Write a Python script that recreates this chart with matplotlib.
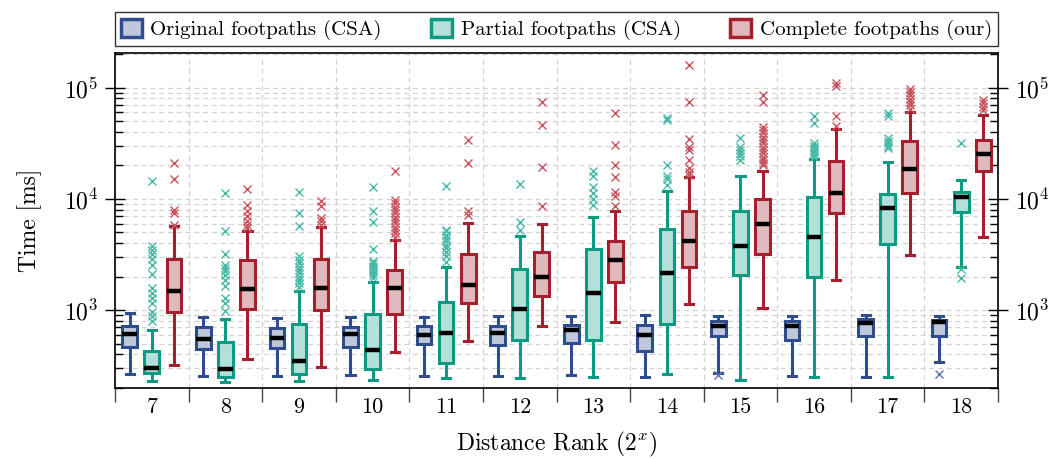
import matplotlib

matplotlib.use("Agg")
import matplotlib.pyplot as plt
from matplotlib.patches import Patch
from matplotlib.ticker import LogLocator, NullFormatter, FixedLocator

plt.rcParams.update({
    "font.family": "serif",
    "font.serif": ["cmr10", "DejaVu Serif"],
    "mathtext.fontset": "cm",
    "axes.formatter.use_mathtext": True,
    "axes.unicode_minus": False,
})

# x categories: distance rank exponents
ranks = [7, 8, 9, 10, 11, 12, 13, 14, 15, 16, 17, 18]

# Original footpaths (CSA)
orig_lo = [265, 254, 254, 263, 258, 256, 261, 249, 270, 254, 251, 342]
orig_q1 = [469, 444, 453, 472, 495, 489, 509, 429, 585, 538, 585, 585]
orig_med = [614, 554, 561, 614, 593, 626, 671, 605, 728, 719, 769, 791]
orig_q3 = [728, 705, 699, 705, 719, 723, 743, 743, 807, 796, 836, 813]
orig_hi = [953, 871, 847, 865, 871, 884, 884, 902, 884, 895, 914, 884]
orig_fl = [[], [], [], [], [], [], [], [], [261], [], [], [265]]

# Partial footpaths (CSA)
part_lo = [229, 228, 232, 234, 247, 247, 252, 268, 234, 251, 251, 2432]
part_q1 = [270, 252, 269, 294, 337, 542, 535, 754, 2075, 2004, 3960, 7670]
part_med = [304, 296, 347, 438, 618, 1021, 1420, 2162, 3750, 4520, 8280, 10370]
part_q3 = [429, 517, 754, 927, 1188, 2366, 3550, 5400, 7730, 10520, 11120, 11510]
part_hi = [662, 836, 1481, 1807, 2450, 4640, 6870, 11900, 16150, 22900, 21380, 14860]
part_fl = [
    [14550, 3800, 3220, 2570, 2130, 1590, 1430, 1290, 1160, 960, 884, 800, 3500, 2900],
    [11270, 5180, 3220, 2570, 2400, 2240, 2090, 1880, 1640, 1290, 1160, 980],
    [11660, 7460, 5660, 3050, 2820, 2630, 2450, 2290, 2140, 2000, 1870, 1740, 1620],
    [12770, 7830, 6150, 3550, 2750, 2630, 2510, 2400, 2290, 2190, 2090, 1950],
    [13120, 5280, 5100, 4790, 4470, 4170, 3890, 3630, 3310, 3090, 2690],
    [13770, 6150, 5290],
    [17660, 16150, 12770, 11270, 9980, 8870],
    [53100, 51300, 20230, 16150, 15130, 13400],
    [35200, 29200, 27500, 25700, 24500, 22400],
    [55700, 47900, 31600, 30200, 28800, 27500, 26300, 25100, 24000],
    [58900, 55700, 35200, 33100, 31600, 30200, 28500],
    [32150, 2366, 1936],
]

# Complete footpaths (our)
comp_lo = [323, 366, 311, 420, 527, 728, 785, 1140, 1057, 1872, 3157, 4550]
comp_q1 = [967, 1035, 1000, 920, 1163, 1355, 1796, 2450, 3220, 7460, 11430, 17660]
comp_med = [1500, 1542, 1574, 1585, 1676, 1991, 2845, 4216, 5900, 11270, 18660, 25590]
comp_q3 = [2905, 2845, 2883, 2300, 3200, 3335, 4216, 7730, 10020, 21980, 33270, 33960]
comp_hi = [5660, 5120, 5630, 4300, 6110, 5980, 7830, 15600, 17660, 42270, 60100, 56900]
comp_fl = [
    [20900, 15200, 7950, 7470, 5870],
    [12250, 8870, 7730, 6970, 6280, 5870, 5470],
    [9510, 8690, 6730, 6280, 5870],
    [17660, 9770, 9120, 8510, 7940, 7410, 6920, 6460, 6030, 5620, 5250, 4900, 4570],
    [33700, 21240, 7730, 7210],
    [74800, 46530, 19270, 8690],
    [59700, 30600, 20230, 15700, 11500, 10740, 8580],
    [159700, 73800, 34700, 29600, 27600, 22440, 18900, 17400, 16500],
    [85900, 74800, 44700, 41700, 38900, 36300, 33900, 31600, 29500, 27500, 25700, 24000, 22400, 20900, 20000],
    [109400, 103500, 56100, 45300],
    [96600, 91200, 85100, 79400, 74100, 69200, 64600],
    [77400, 72400, 67600, 63100],
]

series = [
    ("Original footpaths (CSA)", "#2f4d8c", "#bfc7dc", "#5a76b3",
     orig_lo, orig_q1, orig_med, orig_q3, orig_hi, orig_fl),
    ("Partial footpaths (CSA)", "#0d9a82", "#b3e0d8", "#48b9a6",
     part_lo, part_q1, part_med, part_q3, part_hi, part_fl),
    ("Complete footpaths (our)", "#a51f2d", "#e0b9be", "#c8545f",
     comp_lo, comp_q1, comp_med, comp_q3, comp_hi, comp_fl),
]
offsets = [-0.3, 0.0, 0.3]

fig = plt.figure(figsize=(10.59, 4.59), dpi=100)
ax = fig.add_axes([0.1086, 0.1547, 0.8338, 0.7298])

handles = []
for (label, edge, face, flc, lo, q1, med, q3, hi, fl), off in zip(series, offsets):
    stats = []
    for i in range(len(ranks)):
        stats.append({
            "whislo": lo[i], "q1": q1[i], "med": med[i],
            "q3": q3[i], "whishi": hi[i], "fliers": fl[i],
        })
    ax.bxp(
        stats,
        positions=[i + off for i in range(len(ranks))],
        widths=0.2,
        patch_artist=True,
        showfliers=True,
        boxprops=dict(facecolor=face, edgecolor=edge, linewidth=2.2),
        whiskerprops=dict(color=edge, linewidth=2.2),
        capprops=dict(color=edge, linewidth=2.2),
        capwidths=0.11,
        medianprops=dict(color="black", linewidth=3.2, solid_capstyle="butt"),
        flierprops=dict(marker="x", markeredgecolor=flc, markersize=5.5,
                        markeredgewidth=1.0, linestyle="none"),
        manage_ticks=False,
    )
    handles.append(Patch(facecolor=face, edgecolor=edge, linewidth=2.5, label=label))

ax.set_yscale("log")
ax.set_ylim(200, 2.05e5)
ax.set_xlim(-0.5, len(ranks) - 0.5)

ax.set_xticks(range(len(ranks)))
ax.set_xticklabels([str(r) for r in ranks])
ax.xaxis.set_minor_locator(FixedLocator([i - 0.5 for i in range(len(ranks) + 1)]))
ax.tick_params(axis="x", which="major", length=0, labelsize=16, pad=7)
ax.tick_params(axis="x", which="minor", length=10, width=1.0, direction="out", color="#444444")

ax.yaxis.set_major_locator(LogLocator(base=10, numticks=10))
ax.yaxis.set_minor_locator(LogLocator(base=10, subs=range(2, 10), numticks=20))
ax.yaxis.set_minor_formatter(NullFormatter())
ax.tick_params(axis="y", which="major", direction="inout", length=14, width=1.0,
               left=True, right=True, labelleft=True, labelright=True, labelsize=17, pad=5)
ax.tick_params(axis="y", which="minor", direction="in", length=6, width=1.0,
               left=True, right=True)

ax.grid(True, axis="x", which="minor", linestyle=(0, (4, 3)), color="#d3d3d3", linewidth=0.9)
ax.grid(True, axis="y", which="both", linestyle=(0, (4, 3)), color="#d3d3d3", linewidth=0.9)
ax.set_axisbelow(True)
for sp in ax.spines.values():
    sp.set_linewidth(1.2)

ax.set_xlabel(r"Distance Rank ($2^x$)", fontsize=17, labelpad=9)
ax.set_ylabel("Time [ms]", fontsize=17, labelpad=16)

leg = ax.legend(handles=handles, loc="lower left", bbox_to_anchor=(0, 1.02, 1, 0.1),
                mode="expand", ncol=3, fontsize=15, frameon=True, fancybox=False,
                edgecolor="black", handlelength=1.0, handleheight=1.0,
                borderaxespad=0, borderpad=0.3, handletextpad=0.4)
leg.get_frame().set_linewidth(1.0)

fig.savefig("out.png", dpi=100)
